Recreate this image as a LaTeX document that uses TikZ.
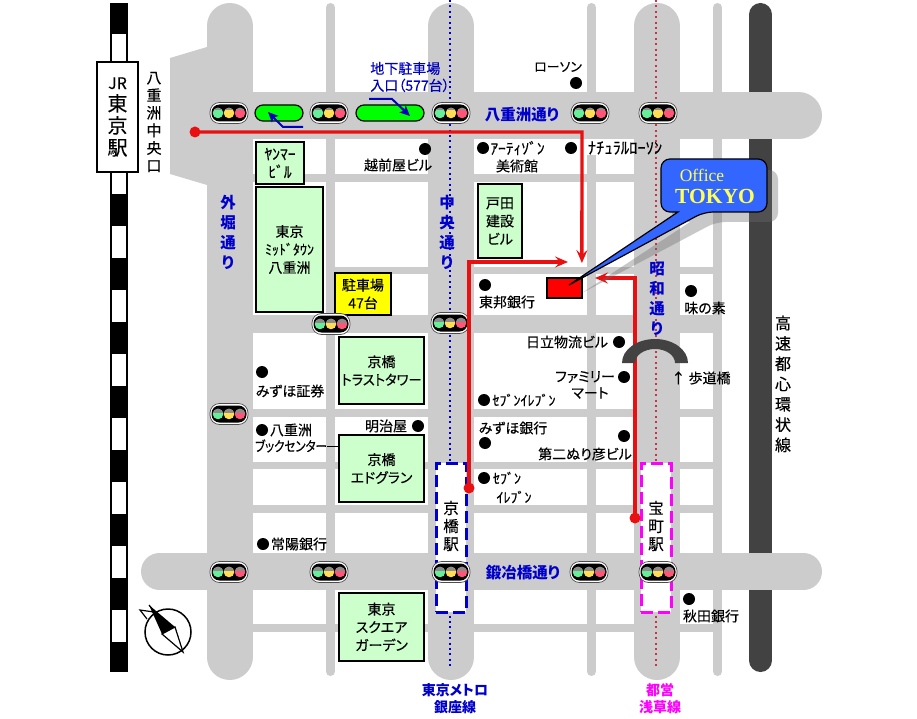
\documentclass[tikz,border=0pt]{standalone}
\usepackage{fontspec}
\usepackage{xcolor}
\usetikzlibrary{arrows.meta}
\setmainfont{Noto Sans CJK JP}[RawFeature=+palt, UprightFeatures={FakeBold=0.25}]
\newfontfamily\officefont{Liberation Serif}
\definecolor{roadgray}{HTML}{CCCCCC}
\definecolor{darkroad}{HTML}{424242}
\definecolor{bldgreen}{HTML}{CCFFCC}
\definecolor{labelblue}{HTML}{0000CC}
\definecolor{routered}{HTML}{E81010}
\definecolor{metrored}{HTML}{CC3344}
\definecolor{calloutblue}{HTML}{3366FF}
\definecolor{lampgreen}{HTML}{66EE99}
\definecolor{lampyellow}{HTML}{FFDD55}
\definecolor{lamppink}{HTML}{FF5577}
\definecolor{parkyellow}{HTML}{FFFF00}
\definecolor{parkgreen}{HTML}{00FF00}
\definecolor{toeimagenta}{HTML}{FF00FF}
\definecolor{officered}{HTML}{FF0000}
\definecolor{officetext}{HTML}{FFFF55}
\tikzset{
	road/.style={draw=roadgray},
	bigroad/.style={road, line cap=round},
	building/.style={draw=black, line width=1.6, fill=bldgreen, inner sep=0, align=center, font=\fontsize{14}{18}\selectfont},
	lbl/.style={inner sep=0, align=center, font=\fontsize{14}{17}\selectfont},
	smalllbl/.style={inner sep=0, align=center, font=\fontsize{14}{18}\selectfont},
	stacklbl/.style={inner sep=0, align=center, font=\fontsize{16}{20.3}\selectfont},
	streetlbl/.style={inner sep=0, align=center, text=labelblue, font=\fontsize{15.5}{20}\selectfont\bfseries},
	linelbl/.style={inner sep=0, align=center, font=\fontsize{14}{17}\selectfont\bfseries},
	route/.style={draw=routered, line width=3.4},
	routetip/.style={-{Stealth[length=13pt, width=11pt, inset=5pt]}},
	station/.style={fill=white, line width=3, dash pattern=on 12pt off 5pt},
	metro/.style={line width=2, dash pattern=on 2pt off 3.4pt},
	pics/signalbox/.style={code={
		\fill[white, draw=black!70, line width=0.7, rounded corners=9.5] (-19,-10.5) rectangle (19,10.5);
		\fill[black, rounded corners=8] (-17.5,-8.5) rectangle (17.5,8.5);
		\foreach \dx/\lampcol in {-11/lampgreen,0/lampyellow,11/lamppink} {
			\fill[\lampcol] (\dx,0) circle (5.3pt);
			\begin{scope}
				\clip ({\dx-6},-6) rectangle ({\dx+6},#1);
				\fill[black!45] (\dx,0) circle (5.3pt);
			\end{scope}
		}
	}}
}
\begin{document}
\begin{tikzpicture}[x=1pt, y=-1pt]
	\useasboundingbox (0,0) rectangle (917,719);
	\fill[white] (0,0) rectangle (917,719);
	% railway
	\fill[black] (110,3) rectangle (128,672);
	\foreach \ry in {34,98,162,226,290,354,418,482,546,610}
		\fill[white] (112,\ry) rectangle (126,\ry+32);
	% express way and roads
	\draw[bigroad, draw=darkroad, line width=23] (760.5,14.5) -- (760.5,660.5);
	\foreach \rx in {330.5,591.5,717.5}
		\draw[bigroad, line width=9] (\rx,7.5) -- (\rx,671.5);
	\foreach \rx in {229.5,451,657}
		\draw[bigroad, line width=46] (\rx,26) -- (\rx,657);
	\fill[roadgray] (207,47) -- (170,58) -- (170,174) -- (207,185) -- cycle;
	\draw[bigroad, line width=47] (230,115.5) -- (798.5,115.5);
	\draw[bigroad, line width=37] (159.5,571.5) -- (803.5,571.5);
	\foreach \hy/\hw in {178/8,324/18,413/8,465.5/7,509/8,628/8}
		\draw[road, line width=\hw] (240,\hy) -- (717,\hy);
	\draw[road, line width=7] (335,270.5) -- (717,270.5);
	\fill[white] (587,139) rectangle (596,155);
	% buildings
	\node[building, font=\fontsize{15.5}{18}\selectfont, minimum width=48, minimum height=42] (yanmar) at (280,163) {ﾔﾝﾏｰ\\ﾋﾞﾙ};
	\node[building, minimum width=67, minimum height=125] (midtown) at (289.5,249.5) {東京\\ﾐｯﾄﾞﾀｳﾝ\\八重洲};
	\node[building, minimum width=44, minimum height=74] (toda) at (500,221) {戸田\\建設\\ビル};
	\node[building, fill=parkyellow, minimum width=56, minimum height=42] (parking) at (363,294) {駐車場\\47台};
	\node[building, minimum width=85, minimum height=67] (trust) at (381.5,370.5) {京橋\\\scalebox{0.95}[1]{トラストタワー}};
	\node[building, minimum width=85, minimum height=67] (edgrand) at (381.5,468.5) {京橋\\エドグラン};
	\node[building, minimum width=85, minimum height=68] (square) at (381.5,627) {東京\\スクエア\\ガーデン};
	\node[draw=black, line width=1.6, fill=officered, minimum width=35, minimum height=20, inner sep=0] (office) at (564.5,288) {};
	% subway lines and stations
	\coordinate (ginzatop) at (450,0);
	\coordinate (ginzaend) at (450,666);
	\coordinate (asakusatop) at (656,0);
	\coordinate (asakusaend) at (656,667);
	\draw[metro, draw=labelblue] (ginzatop) -- (ginzaend);
	\draw[metro, draw=metrored] (asakusatop) -- (asakusaend);
	\node[station, draw=labelblue, minimum width=30, minimum height=149, inner sep=0] (kyobashi) at (451,537.5) {};
	\node[station, draw=toeimagenta, minimum width=30, minimum height=149, inner sep=0] (takara) at (656,537.5) {};
	\node[inner sep=0, align=center, font=\fontsize{15.5}{18}\selectfont] (kyobashitxt) at (451,526) {京\\橋\\駅};
	\node[inner sep=0, align=center, font=\fontsize{15.5}{18}\selectfont] (takaratxt) at (656,526) {宝\\町\\駅};
	% signals
	\foreach \sx/\sy/\sh in {229/113/-3.5,329/113/-3.5,451/113/-3.5,590/113/-3.5,658/113/-3.5,331/324/-1.5,450/323/-1.5,229/414/-1.5,229/572/-1.5,329/572/-1.5,451/572/-1.5,589/572/-1.5,658/572/-1.5}
		\pic at (\sx,\sy) {signalbox=\sh};
	% parking entrance
	\draw[line width=1.2, fill=parkgreen, rounded corners=8] (255,105) rectangle (303,121);
	\draw[line width=1.2, fill=parkgreen, rounded corners=8] (356,105) rectangle (424,121);
	\coordinate (parkaout) at (303,127);
	\coordinate (parkabend) at (283,127);
	\coordinate (parkatip) at (268,112);
	\coordinate (parkbin) at (369,99);
	\coordinate (parkbbend) at (392,99);
	\coordinate (parkbtip) at (410,116);
	\draw[-{Stealth[length=10pt, width=9pt, inset=2pt]}, line width=2, draw=blue!75!black] (parkaout) -- (parkabend) -- (parkatip);
	\draw[-{Stealth[length=10pt, width=9pt, inset=2pt]}, line width=2, draw=blue!75!black] (parkbin) -- (parkbbend) -- (parkbtip);
	% route
	\coordinate (northstart) at (195,132);
	\coordinate (northturn) at (582,132);
	\coordinate (northend) at (581.9,263);
	\coordinate (kyostart) at (469,488);
	\coordinate (kyoturn) at (469,262);
	\coordinate (kyoend) at (568,262);
	\coordinate (takastart) at (635,518);
	\coordinate (takaturn) at (635,278);
	\coordinate (takaend) at (595,278);
	\draw[route, routetip] (northstart) -- (northturn) -- (northend);
	\draw[route, routetip] (kyostart) -- (kyoturn) -- (kyoend);
	\draw[route, routetip] (takastart) -- (takaturn) -- (takaend);
	\foreach \p in {northstart,kyostart,takastart}
		\fill[routered] (\p) circle (5.5pt);
	% footbridge
	\fill[darkroad] (622,363) arc[start angle=180, end angle=0, x radius=33pt, y radius=24pt] -- (675,363) arc[start angle=0, end angle=180, x radius=20pt, y radius=14pt] -- cycle;
	% callout
	\fill[black!58, opacity=0.37, rounded corners=9] (672,170) -- (778,170) -- (778,222) -- (716,222) [sharp corners] -- (582,293) -- (690,222) [rounded corners=9] -- (672,222) -- cycle;
	\draw[fill=calloutblue, line width=1.2, rounded corners=9] (661,185) -- (661,159) -- (767,159) -- (767,212) -- (704,212) [sharp corners] -- (569,285) -- (678,212) [rounded corners=9] -- (661,212) -- cycle;
	\node[inner sep=0, text=officetext, font=\officefont\fontsize{17.5}{17.5}\selectfont] (officetxt) at (702,175.5) {Office};
	\node[inner sep=0, text=officetext, font=\officefont\bfseries\fontsize{21.5}{21.5}\selectfont] (tokyotxt) at (715,196.5) {TOKYO};
	% JR station
	\node[draw=black, line width=1.2, fill=white, minimum width=41, minimum height=110, inner sep=0, align=center, font=\fontsize{20}{22}\selectfont] (jrbox) at (117.5,117) {\fontsize{16}{16}\selectfont JR\\東\\京\\駅};
	% marks of places
	\foreach \px/\py in {576/83,425/149,483/148,571/148,485/285,691/291,619/342,624/377,484/400,485/443,624/436,484/478,689/599,262/372,262/430,418/426,263/544}
		\fill[black] (\px,\py) circle (6pt);
	% street names
	\node[streetlbl] (yaesust) at (522,115) {八重洲通り};
	\node[streetlbl] (kajist) at (523,573) {鍛冶橋通り};
	\node[streetlbl] (sotost) at (228,232) {外\\堀\\通\\り};
	\node[streetlbl] (chuost) at (447,232) {中\\央\\通\\り};
	\node[streetlbl] (showast) at (657,299) {昭\\和\\通\\り};
	% places
	\node[stacklbl, font=\fontsize{15}{17.6}\selectfont] (yaesuexit) at (154,122) {八\\重\\洲\\中\\央\\口};
	\node[stacklbl] (shuto) at (783,384) {高\\速\\都\\心\\環\\状\\線};
	\node[lbl, text=blue!75!black, align=left] (parkname) at (410,77) {地下駐車場\\入口（577台）};
	\node[lbl, font=\fontsize{13}{18}\selectfont] (lawson) at (558,67) {ローソン};
	\node[lbl] (echizen) at (398,165) {越前屋ビル};
	\node[smalllbl, font=\fontsize{15.5}{18}\selectfont] (artizon) at (517.5,148) {ｱｰﾃｨｿﾞﾝ};
	\node[lbl] (artizonb) at (517,166) {美術館};
	\node[smalllbl, font=\fontsize{16.5}{18}\selectfont] (natural) at (625,148) {ﾅﾁｭﾗﾙﾛｰｿﾝ};
	\node[lbl] (toho) at (507,302) {東邦銀行};
	\node[lbl] (ajinomoto) at (705,308) {味の素};
	\node[lbl] (hitachi) at (567,342) {日立物流ビル};
	\node[lbl] (family) at (585,377) {ファミリー};
	\node[lbl] (mart) at (590,393) {マート};
	\node[lbl] (footb) at (701,378) {↑ 歩道橋};
	\node[smalllbl] (seven) at (524,400) {ｾﾌﾞﾝｲﾚﾌﾞﾝ};
	\node[lbl] (mizuho) at (513,428) {みずほ銀行};
	\node[lbl] (nurihiko) at (585,454) {第二ぬり彦ビル};
	\node[smalllbl] (sevenb) at (507,478) {ｾﾌﾞﾝ};
	\node[smalllbl] (sevenc) at (514,497) {ｲﾚﾌﾞﾝ};
	\node[lbl] (akita) at (711,616) {秋田銀行};
	\node[lbl] (mizuhosec) at (290,391) {みずほ証券};
	\node[lbl] (bookname) at (291,430) {八重洲};
	\node[lbl] (bookcenter) at (291,446) {\scalebox{0.82}[1]{ブックセンター}};
	\draw[line width=1] (bookcenter) -- (edgrand.west |- bookcenter);
	\node[lbl] (meijiya) at (386,426) {明治屋};
	\node[lbl] (joyo) at (299,544) {常陽銀行};
	\node[linelbl, text=blue!80!black] (metroname) at (455,698.5) {東京メトロ\\銀座線};
	\node[linelbl, text=toeimagenta] (toeiname) at (660,698.5) {都営\\浅草線};
	% compass
	\draw[line width=1.5] (168,632) circle (23pt);
	\fill[black] (149,605) -- (175,627) -- (162,634) -- cycle;
	\draw[line width=1.2, fill=white] (175,627) -- (183,652) -- (162,634) -- cycle;
	\draw[line width=1.2] (149,605) -- (157,615);
	\draw[line width=1.2] (147,619) -- (140,610) -- (154,612);
\end{tikzpicture}
\end{document}
